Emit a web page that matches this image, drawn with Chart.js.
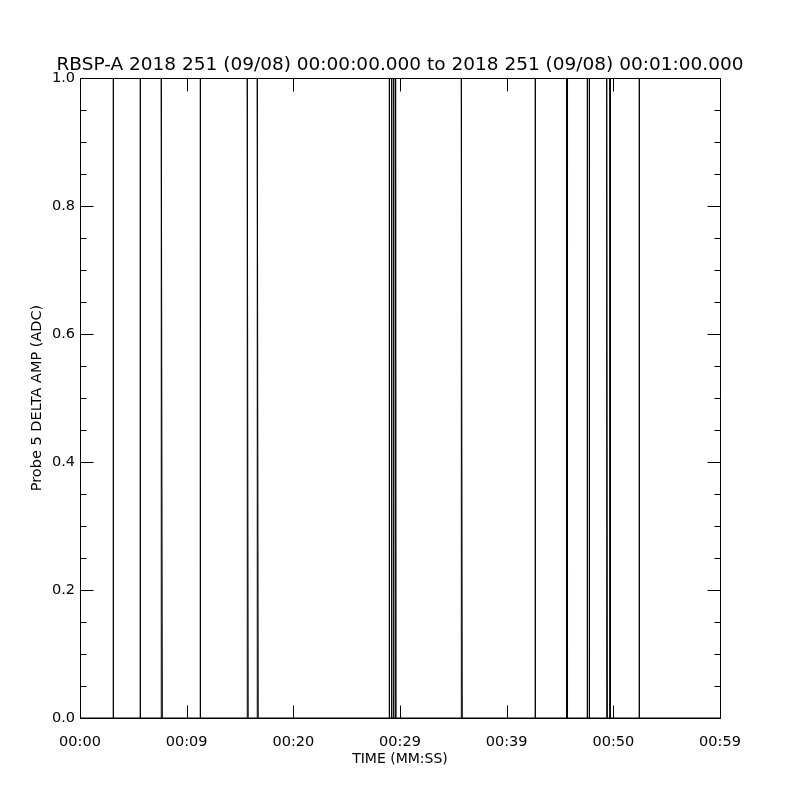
<!DOCTYPE html>
<html>
<head>
<meta charset="utf-8">
<script src="https://cdn.jsdelivr.net/npm/chart.js@4"></script>
<style>
  html, body { margin: 0; padding: 0; background: #fff; }
</style>
</head>
<body>
<canvas id="chart" width="800" height="800"></canvas>
<script>
// sample times (seconds after 00:00:00) and amplitudes
const times = [0,
  3.11, 3.12, 3.13,
  5.64, 5.65, 5.66,
  7.62, 7.62, 7.72,
  11.27, 11.28, 11.29,
  15.68, 15.68, 15.77,
  16.62, 16.62, 16.71,
  28.99, 29.00, 29.01,
  29.21, 29.22, 29.23,
  29.40, 29.41, 29.42,
  29.58, 29.59, 29.63,
  35.75, 35.75, 35.84,
  42.67, 42.68, 42.69,
  45.60, 45.61, 45.62,
  45.69, 45.70, 45.71,
  47.55, 47.56, 47.57,
  47.74, 47.75, 47.76,
  49.38, 49.38, 49.44,
  49.68, 49.69, 49.70,
  52.42, 52.43, 52.44,
  60];
const amps = [0,
  0, 1, 0,
  0, 1, 0,
  0, 1, 0,
  0, 1, 0,
  0, 1, 0,
  0, 1, 0,
  0, 1, 0,
  0, 1, 0,
  0, 1, 0,
  0, 1, 0,
  0, 1, 0,
  0, 1, 0,
  0, 1, 0,
  0, 1, 0,
  0, 1, 0,
  0, 1, 0,
  0, 1, 0,
  0, 1, 0,
  0, 1, 0,
  0];

const xTickLabels = ['00:00', '00:09', '00:20', '00:29', '00:39', '00:50', '00:59'];
const titleText = 'RBSP-A 2018 251 (09/08) 00:00:00.000 to 2018 251 (09/08) 00:01:00.000';

const FONT = 'DejaVu Sans';

// IDL style frame: box + inward ticks on all four sides, title centred on the page
const frameTicks = {
  id: 'frameTicks',
  afterDraw(chart) {
    const { ctx, chartArea: a, scales: { x, y } } = chart;
    const L = Math.round(a.left) + 0.5, R = Math.round(a.right) + 0.5;
    const T = Math.round(a.top) + 0.5, B = Math.round(a.bottom) + 0.5;
    ctx.save();
    ctx.strokeStyle = '#000';
    ctx.lineWidth = 1;
    ctx.beginPath();
    ctx.rect(L, T, R - L, B - T);
    x.ticks.forEach(t => {
      const px = Math.round(x.getPixelForValue(t.value)) + 0.5;
      ctx.moveTo(px, B); ctx.lineTo(px, B - 13);
      ctx.moveTo(px, T); ctx.lineTo(px, T + 13);
    });
    for (let v = 0; v <= 1.0001; v += 0.05) {
      const py = Math.round(y.getPixelForValue(v)) + 0.5;
      const major = Math.abs(v * 5 - Math.round(v * 5)) < 1e-6;
      const len = major ? 13 : 6;
      ctx.moveTo(L, py); ctx.lineTo(L + len, py);
      ctx.moveTo(R, py); ctx.lineTo(R - len, py);
    }
    ctx.stroke();

    ctx.fillStyle = '#000';
    ctx.font = '18.5px "' + FONT + '"';
    ctx.textAlign = 'center';
    ctx.textBaseline = 'middle';
    ctx.fillText(titleText, chart.width / 2, 65);
    ctx.restore();
  }
};

const ctx = document.getElementById('chart').getContext('2d');
const chart = new Chart(ctx, {
  type: 'line',
  data: {
    datasets: [{
      data: times.map((t, i) => ({ x: t, y: amps[i] })),
      borderColor: '#000',
      borderWidth: 1,
      pointRadius: 0,
      tension: 0,
      fill: false
    }]
  },
  options: {
    responsive: false,
    animation: false,
    layout: { padding: { left: 0, right: 80, top: 78, bottom: 0 } },
    plugins: {
      legend: { display: false },
      tooltip: { enabled: false },
      title: { display: false }
    },
    scales: {
      x: {
        type: 'linear',
        min: 0,
        max: 60,
        grid: { display: false, drawTicks: false },
        border: { display: false },
        ticks: {
          stepSize: 10,
          color: '#000',
          maxRotation: 0,
          padding: 16,
          font: { family: FONT, size: 14.5 },
          callback: (v, i) => xTickLabels[i]
        },
        title: {
          display: true,
          text: 'TIME (MM:SS)',
          color: '#000',
          font: { family: FONT, size: 14 },
          padding: { top: 0, bottom: 32 }
        },
        afterFit: s => { s.height = 82; }
      },
      y: {
        min: 0,
        max: 1,
        grid: { display: false, drawTicks: false },
        border: { display: false },
        ticks: {
          stepSize: 0.2,
          color: '#000',
          padding: 5,
          font: { family: FONT, size: 14.5 },
          callback: v => v.toFixed(1)
        },
        title: {
          display: true,
          text: 'Probe 5 DELTA AMP (ADC)',
          color: '#000',
          font: { family: FONT, size: 14.5 },
          padding: { top: 29, bottom: 0 }
        },
        afterFit: s => { s.width = 80; }
      }
    }
  },
  plugins: [frameTicks]
});
</script>
</body>
</html>
